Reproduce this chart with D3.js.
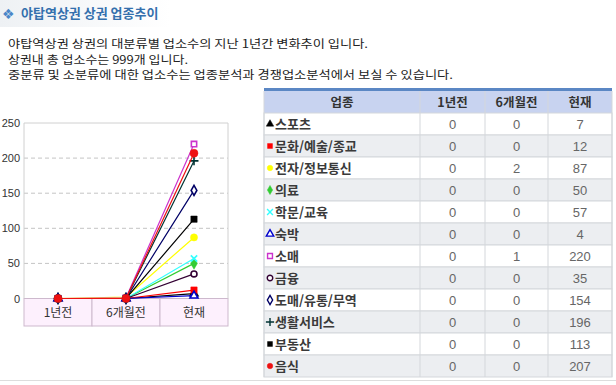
<!DOCTYPE html>
<html>
<head>
<meta charset="utf-8">
<script src="https://cdn.jsdelivr.net/npm/d3@7"></script>
<style>
  body { margin: 0; background: #fff; }
  text { font-family: "Noto Sans CJK KR", "Noto Sans", sans-serif; }
  .num { font-family: "Liberation Sans Narrow", "Liberation Sans", sans-serif; }
</style>
</head>
<body>
<div id="chart"></div>
<script>
// data
const periods = ["1년전", "6개월전", "현재"];
const industries = ["스포츠", "문화/예술/종교", "전자/정보통신", "의료", "학문/교육", "숙박",
                    "소매", "금융", "도매/유통/무역", "생활서비스", "부동산", "음식"];
const yearAgo     = [0, 0, 0, 0, 0, 0, 0, 0, 0, 0, 0, 0];
const halfYearAgo = [0, 0, 2, 0, 0, 0, 1, 0, 0, 0, 0, 0];
const current     = [7, 12, 87, 50, 57, 4, 220, 35, 154, 196, 113, 207];
const yTicks = [0, 50, 100, 150, 200, 250];
const tableHeaders = ["업종", "1년전", "6개월전", "현재"];

const introLines = [
  "야탑역상권 상권의 대분류별 업소수의 지난 1년간 변화추이 입니다.",
  "상권내 총 업소수는 999개 입니다.",
  "중분류 및 소분류에 대한 업소수는 업종분석과 경쟁업소분석에서 보실 수 있습니다."
];
const introWidths = [360, 180, 445];

// styles per series
const colors = ["#000000", "#ff0000", "#ffff00", "#33cc33", "#33ffff", "#0000cc",
                "#cc33cc", "#330033", "#000066", "#003333", "#000000", "#ee1111"];
const symX = d3.symbolTimes || d3.symbolCross;
const symPlus = d3.symbolPlus || d3.symbolCross;
const symbols = [
  {type: d3.symbolTriangle, fill: true},
  {type: d3.symbolSquare, fill: true},
  {type: d3.symbolCircle, fill: true},
  {type: d3.symbolDiamond, fill: true},
  {type: symX, fill: false},
  {type: d3.symbolTriangle, fill: false},
  {type: d3.symbolSquare, fill: false},
  {type: d3.symbolCircle, fill: false},
  {type: d3.symbolDiamond, fill: false},
  {type: symPlus, fill: false},
  {type: d3.symbolSquare, fill: true},
  {type: d3.symbolCircle, fill: true}
];

const series = industries.map((name, i) => ({
  name, i, values: [yearAgo[i], halfYearAgo[i], current[i]]
}));

const svg = d3.select("#chart").append("svg")
    .attr("width", 616)
    .attr("height", 385);

// title bar
const grad = svg.append("defs").append("linearGradient")
    .attr("id", "tbg").attr("x1", 0).attr("x2", 1);
grad.append("stop").attr("offset", 0).attr("stop-color", "#eef1f4");
grad.append("stop").attr("offset", 1).attr("stop-color", "#ffffff");
svg.append("rect").attr("x", 0).attr("y", 0).attr("width", 170).attr("height", 27)
    .attr("fill", "url(#tbg)");
svg.append("text")
    .attr("x", 2).attr("y", 19)
    .style("font-family", "DejaVu Sans")
    .style("font-size", "14px")
    .attr("fill", "#4a86c8")
    .text("❖");
svg.append("text")
    .attr("x", 21).attr("y", 18)
    .style("font-size", "13px")
    .style("font-weight", "bold")
    .attr("fill", "#3470ad")
    .text("야탑역상권 상권 업종추이");

svg.selectAll(".intro")
  .data(introLines)
  .enter().append("text")
    .attr("class", "intro")
    .attr("x", 8)
    .attr("y", (d, i) => 48 + i * 15.5)
    .attr("textLength", (d, i) => introWidths[i])
    .attr("lengthAdjust", "spacingAndGlyphs")
    .style("font-size", "11.5px")
    .attr("fill", "#222")
    .text(d => d);

// ---- line chart ----
const plot = {left: 24, right: 228, top: 123, bottom: 298.5, band: 326};

const x = d3.scalePoint()
    .domain(periods)
    .range([plot.left, plot.right])
    .padding(0.5);

const y = d3.scaleLinear()
    .domain([0, 250])
    .range([plot.bottom, plot.top]);

// category band under zero line
const bandW = (plot.right - plot.left) / periods.length;
svg.selectAll(".cat")
  .data(periods)
  .enter().append("rect")
    .attr("class", "cat")
    .attr("x", d => x(d) - bandW / 2)
    .attr("y", plot.bottom)
    .attr("width", bandW)
    .attr("height", plot.band - plot.bottom)
    .attr("fill", "#fdf0fd")
    .attr("stroke", "#cdb9cd");

svg.selectAll(".catLabel")
  .data(periods)
  .enter().append("text")
    .attr("class", "catLabel")
    .attr("x", d => x(d))
    .attr("y", 317)
    .attr("text-anchor", "middle")
    .style("font-size", "12px")
    .attr("fill", "#333")
    .text(d => d);

// grid
svg.selectAll(".grid")
  .data(yTicks.filter(d => d > 0 && d < 250))
  .enter().append("line")
    .attr("class", "grid")
    .attr("x1", plot.left).attr("x2", plot.right)
    .attr("y1", d => y(d)).attr("y2", d => y(d))
    .attr("stroke", "#c4c4c4")
    .attr("stroke-dasharray", "4,3");

svg.append("path")
    .attr("d", `M${plot.left},${plot.bottom}V${y(250)}H${plot.right}V${plot.bottom}`)
    .attr("fill", "none")
    .attr("stroke", "#d0d0d0");

// y axis labels
const yAxis = svg.append("g")
    .attr("transform", `translate(${plot.left},0)`)
    .call(d3.axisLeft(y).tickValues(yTicks).tickSize(0).tickPadding(4));
yAxis.select(".domain").remove();
yAxis.selectAll("text")
    .style("font-family", "Liberation Sans, Arial, sans-serif")
    .style("font-size", "11px")
    .attr("fill", "#333");

const line = d3.line()
    .x((d, j) => x(periods[j]))
    .y(d => y(d));

const sym = d3.symbol();

const g = svg.selectAll(".series")
  .data(series)
  .enter().append("g")
    .attr("class", "series");

g.append("path")
    .attr("d", d => line(d.values))
    .attr("fill", "none")
    .attr("stroke", d => colors[d.i])
    .attr("stroke-width", 1.2);

g.selectAll(".mark")
  .data(d => d.values.map((v, j) => ({v, j, i: d.i})))
  .enter().append("path")
    .attr("class", "mark")
    .attr("transform", d => `translate(${x(periods[d.j])},${y(d.v)})`)
    .attr("d", d => sym.type(symbols[d.i].type).size(d.i === 11 ? 50 : symbols[d.i].fill ? 40 : 28)())
    .attr("fill", d => symbols[d.i].fill ? colors[d.i] : "#fff")
    .attr("stroke", d => colors[d.i])
    .attr("stroke-width", d => symbols[d.i].fill ? 0.5 : 1.6);

// ---- table ----
const cols = [264, 420, 485, 548, 612];
const rowY = d3.scaleBand()
    .domain(industries)
    .range([113, 377]);

const table = svg.append("g");

table.append("rect")
    .attr("x", cols[0]).attr("y", 88)
    .attr("width", cols[4] - cols[0]).attr("height", 3)
    .attr("fill", "#5b87c4");
table.append("rect")
    .attr("x", cols[0]).attr("y", 91)
    .attr("width", cols[4] - cols[0]).attr("height", 22)
    .attr("fill", "#c8d3f0");

table.selectAll(".rowbg")
  .data(series)
  .enter().append("rect")
    .attr("class", "rowbg")
    .attr("x", cols[0])
    .attr("y", d => rowY(d.name))
    .attr("width", cols[4] - cols[0])
    .attr("height", rowY.bandwidth())
    .attr("fill", (d, i) => i % 2 ? "#eceef1" : "#ffffff")
    .attr("stroke", "#d4d7db");

// vertical separators
table.selectAll(".vsep")
  .data(cols)
  .enter().append("line")
    .attr("class", "vsep")
    .attr("x1", d => d).attr("x2", d => d)
    .attr("y1", 91).attr("y2", 377)
    .attr("stroke", "#d4d7db");

table.selectAll(".head")
  .data(tableHeaders)
  .enter().append("text")
    .attr("class", "head")
    .attr("x", (d, i) => (cols[i] + cols[i + 1]) / 2)
    .attr("y", 107)
    .attr("text-anchor", "middle")
    .style("font-size", "12.5px")
    .style("font-weight", "bold")
    .attr("fill", "#333")
    .text(d => d);

const rows = table.selectAll(".row")
  .data(series)
  .enter().append("g")
    .attr("class", "row")
    .attr("transform", d => `translate(0,${rowY(d.name) + rowY.bandwidth() / 2})`);

rows.append("path")
    .attr("transform", "translate(270,0)")
    .attr("d", d => sym.type(symbols[d.i].type).size(24)())
    .attr("fill", d => symbols[d.i].fill ? colors[d.i] : "#fff")
    .attr("stroke", d => colors[d.i])
    .attr("stroke-width", d => symbols[d.i].fill ? 0.5 : 1.4);

rows.append("text")
    .attr("x", 275)
    .attr("y", 5)
    .style("font-size", "13px")
    .style("font-weight", "bold")
    .attr("fill", "#3a3a3a")
    .text(d => d.name);

rows.selectAll(".num")
  .data(d => d.values)
  .enter().append("text")
    .attr("class", "num")
    .attr("x", (d, j) => (cols[j + 1] + cols[j + 2]) / 2)
    .attr("y", 5)
    .attr("text-anchor", "middle")
    .style("font-size", "13px")
    .attr("fill", "#666")
    .text(d => d);

// bottom rule
svg.append("line")
    .attr("x1", 0).attr("x2", 616)
    .attr("y1", 380.5).attr("y2", 380.5)
    .attr("stroke", "#dddddd");
</script>
</body>
</html>
